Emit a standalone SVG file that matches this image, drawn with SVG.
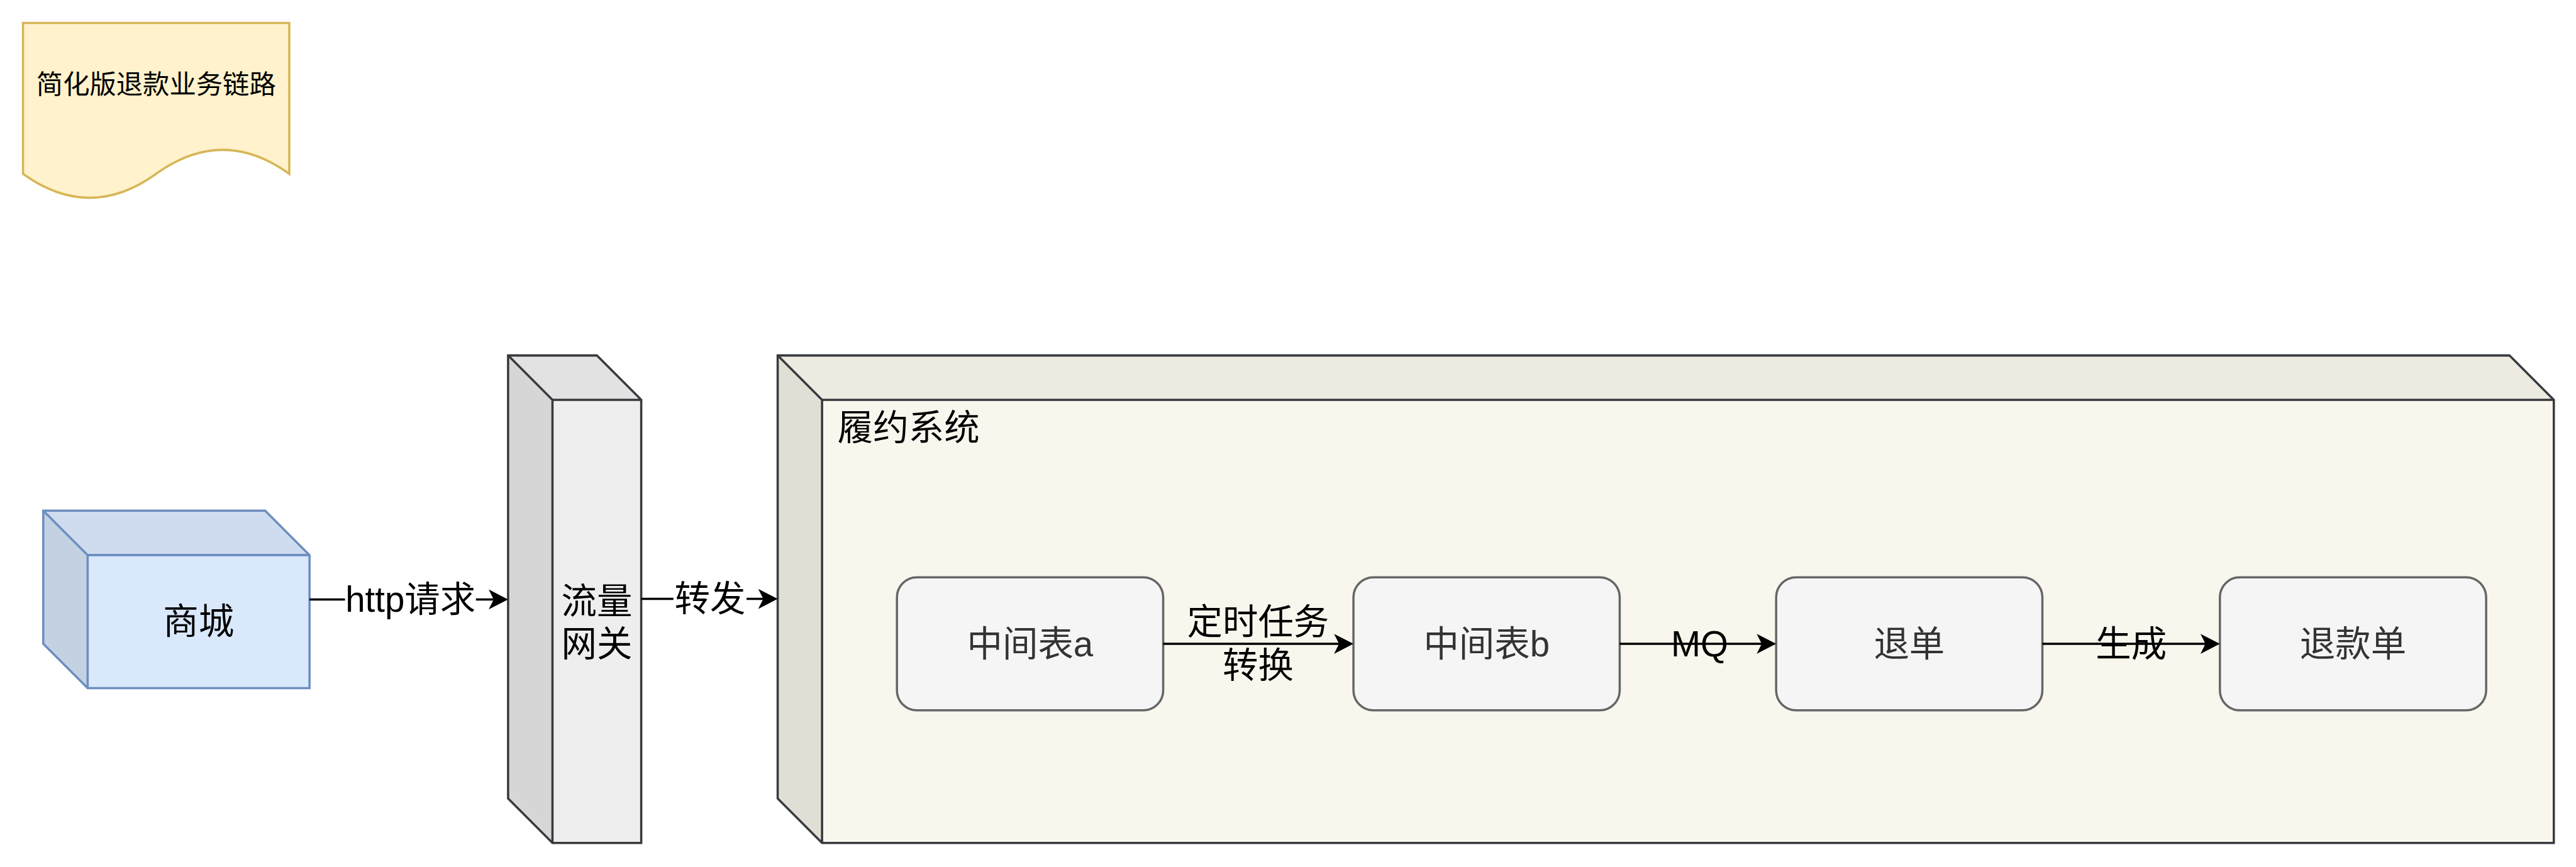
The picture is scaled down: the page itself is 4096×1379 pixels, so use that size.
<svg xmlns="http://www.w3.org/2000/svg" width="4096" height="1379" viewBox="0 0 4096 1379">
<style>
text{font-family:"Liberation Sans","Noto Sans CJK SC",sans-serif;text-anchor:middle;dominant-baseline:central}
.f64{font-size:64px;fill:#000}
.f48{font-size:48px;fill:#000}
.g{fill:#333333}
.edge{stroke:#000;stroke-width:4;fill:none}
.rr{fill:#f5f5f5;stroke:#666666;stroke-width:4}
.dk{stroke:#36393d;stroke-width:4;stroke-linejoin:miter}
.bl{stroke:#6c8ebf;stroke-width:4}
</style>
<defs>
<marker id="arr" viewBox="-12 -19 37 38" markerWidth="37" markerHeight="38" refX="0" refY="0" orient="auto" markerUnits="userSpaceOnUse">
<path d="M24,0 L-11,-18 L-2,0 L-11,18 Z" fill="#000"/>
</marker>
</defs>
<rect width="4096" height="1379" fill="#fff"/>
<g transform="scale(0.882)">
<g id="note">
<path d="M41.5,41.5 L521.5,41.5 L521.5,313.5 Q401.5,227.1 281.5,313.5 Q161.5,399.9 41.5,313.5 Z" fill="#fff2cc" stroke="#d6b656" stroke-width="4"/>
<text class="f48" x="281.5" y="152">简化版退款业务链路</text>
</g>
<g id="mall">
<rect x="158" y="1001" width="400" height="240" fill="#dae8fc"/>
<path d="M78,921 L478,921 L558,1001 L158,1001 Z" fill="#cfdcef"/>
<path d="M78,921 L158,1001 L158,1241 L78,1161 Z" fill="#c4d1e3"/>
<path class="bl" fill="none" d="M78,921 L478,921 L558,1001 L558,1241 L158,1241 L78,1161 Z M78,921 L158,1001 L558,1001 M158,1001 L158,1241"/>
<text class="f64" x="358" y="1121">商城</text>
</g>
<g id="gateway">
<rect x="996" y="721" width="160" height="799" fill="#eeeeee"/>
<path d="M916,641 L1076,641 L1156,721 L996,721 Z" fill="#e2e2e2"/>
<path d="M916,641 L996,721 L996,1520 L916,1440 Z" fill="#d6d6d6"/>
<path class="dk" fill="none" d="M916,641 L1076,641 L1156,721 L1156,1520 L996,1520 L916,1440 Z M916,641 L996,721 L1156,721 M996,721 L996,1520"/>
<text class="f64" x="1076" y="1084">流量</text>
<text class="f64" x="1076" y="1161">网关</text>
</g>
<g id="fulfillment">
<rect x="1482" y="721" width="3122" height="799" fill="#f9f7ed"/>
<path d="M1402,641 L4524,641 L4604,721 L1482,721 Z" fill="#edebe1"/>
<path d="M1402,641 L1482,721 L1482,1520 L1402,1440 Z" fill="#e0ded5"/>
<path class="dk" fill="none" d="M1402,641 L4524,641 L4604,721 L4604,1520 L1482,1520 L1402,1440 Z M1402,641 L1482,721 L4604,721 M1482,721 L1482,1520"/>
<text class="f64" x="1510" y="771" style="text-anchor:start">履约系统</text>
</g>
<g id="tableA">
<rect class="rr" x="1617" y="1041" width="480" height="240" rx="36" ry="36"/>
<text class="f64 g" x="1857" y="1161">中间表a</text>
</g>
<g id="tableB">
<rect class="rr" x="2440" y="1041" width="480" height="240" rx="36" ry="36"/>
<text class="f64 g" x="2680" y="1161">中间表b</text>
</g>
<g id="returnOrder">
<rect class="rr" x="3202" y="1041" width="480" height="240" rx="36" ry="36"/>
<text class="f64 g" x="3442" y="1161">退单</text>
</g>
<g id="refundOrder">
<rect class="rr" x="4002" y="1041" width="480" height="240" rx="36" ry="36"/>
<text class="f64 g" x="4242" y="1161">退款单</text>
</g>
<g id="connectors">
<path class="edge" d="M558,1081 L892,1081" marker-end="url(#arr)"/>
<rect x="622" y="1041" width="236" height="80" fill="#fff"/>
<text class="f64" x="740" y="1081">http请求</text>
<path class="edge" d="M1156,1080 L1378,1080" marker-end="url(#arr)"/>
<rect x="1214" y="1040" width="132" height="80" fill="#fff"/>
<text class="f64" x="1280" y="1080">转发</text>
<path class="edge" d="M2097,1161 L2416,1161" marker-end="url(#arr)"/>
<text class="f64" x="2268" y="1122">定时任务</text>
<text class="f64" x="2268" y="1200">转换</text>
<path class="edge" d="M2920,1161 L3178,1161" marker-end="url(#arr)"/>
<text class="f64" x="3064" y="1161">MQ</text>
<path class="edge" d="M3682,1161 L3978,1161" marker-end="url(#arr)"/>
<text class="f64" x="3842" y="1161">生成</text>
</g>
</g>
</svg>
